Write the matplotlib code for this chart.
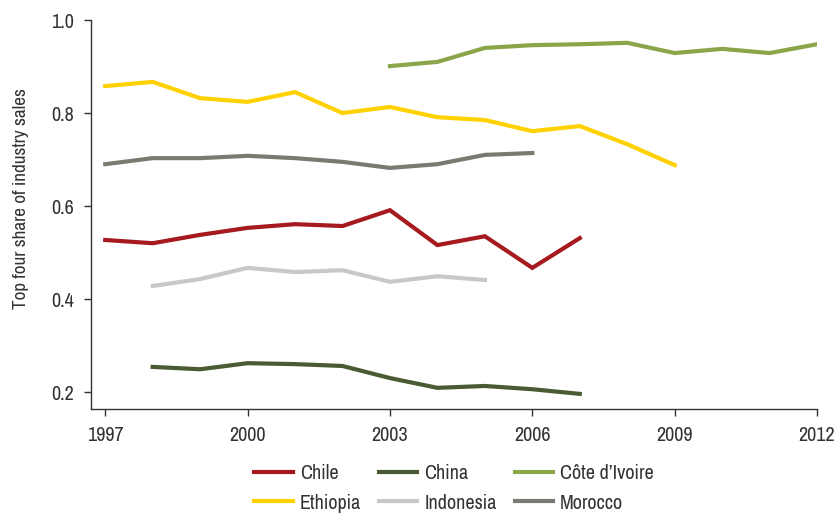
import matplotlib
matplotlib.use("Agg")
import matplotlib.pyplot as plt
from matplotlib import font_manager

names = sorted({f.name for f in font_manager.fontManager.ttflist})
cands = [n for n in names if ("Narrow" in n or "Condensed" in n)]
fam = cands[0] if cands else "Liberation Sans"
plt.rcParams['font.family'] = [fam, 'DejaVu Sans']
plt.rcParams['font.weight'] = 'light'

chile_years = list(range(1997, 2008))
chile = [0.527, 0.520, 0.538, 0.553, 0.561, 0.557, 0.591, 0.516, 0.535, 0.467, 0.531]
china_years = list(range(1998, 2008))
china = [0.254, 0.249, 0.262, 0.260, 0.256, 0.230, 0.209, 0.213, 0.206, 0.196]
civ_years = list(range(2003, 2013))
civ = [0.901, 0.910, 0.940, 0.946, 0.948, 0.951, 0.929, 0.938, 0.929, 0.948]
eth_years = list(range(1997, 2010))
eth = [0.858, 0.867, 0.832, 0.824, 0.845, 0.800, 0.813, 0.791, 0.785, 0.761, 0.772, 0.733, 0.688]
ind_years = list(range(1998, 2006))
ind = [0.428, 0.443, 0.467, 0.458, 0.462, 0.437, 0.449, 0.441]
mor_years = list(range(1997, 2007))
mor = [0.690, 0.703, 0.703, 0.708, 0.703, 0.695, 0.682, 0.690, 0.710, 0.714]

series = [
    ("Chile", chile_years, chile, "#A6191E"),
    ("China", china_years, china, "#4A5A32"),
    ("Côte d’Ivoire", civ_years, civ, "#8BA64A"),
    ("Ethiopia", eth_years, eth, "#FFD100"),
    ("Indonesia", ind_years, ind, "#C8C8C8"),
    ("Morocco", mor_years, mor, "#7A7A72"),
]

xticks = [1997, 2000, 2003, 2006, 2009, 2012]
yticks = [0.2, 0.4, 0.6, 0.8, 1.0]

fig = plt.figure(figsize=(8.38, 5.14), dpi=100)
ax = fig.add_axes([0.1086, 0.2043, 0.975 - 0.1086, 0.961 - 0.2043])

handles = {}
for name, xs, ys, c in series:
    h, = ax.plot(xs, ys, color=c, lw=3.0, label=name, solid_joinstyle='miter')
    handles[name] = h

ax.set_xlim(1996.7, 2012)
ax.set_ylim(0.1635, 1.0)
ax.set_xticks(xticks)
ax.set_xticklabels([str(x) for x in xticks])
ax.set_yticks(yticks)
ax.set_yticklabels([f"{y:.1f}" for y in yticks])

for s in ["top", "right"]:
    ax.spines[s].set_visible(False)
for s in ["left", "bottom"]:
    ax.spines[s].set_color("#333333")
    ax.spines[s].set_linewidth(1.0)
ax.tick_params(axis='both', direction='out', length=5, width=1.0, color="#333333",
               labelsize=14.5, labelcolor="#333333")
ax.tick_params(axis='y', pad=7)
ax.tick_params(axis='x', pad=7)
ax.set_ylabel("Top four share of industry sales", fontsize=13.8, color="#333333")
ax.yaxis.set_label_coords(-0.085, 0.54)

order = ["Chile", "Ethiopia", "China", "Indonesia", "Côte d’Ivoire", "Morocco"]
leg = fig.legend([handles[n] for n in order], order, loc="center",
                 bbox_to_anchor=(0.542, 0.0496), ncol=3, frameon=False,
                 fontsize=14.5, handlelength=1.9, columnspacing=0.9,
                 handletextpad=0.35, labelspacing=0.5, borderpad=0)
for t in leg.get_texts():
    t.set_color("#333333")

fig.savefig("out.png", dpi=100)
